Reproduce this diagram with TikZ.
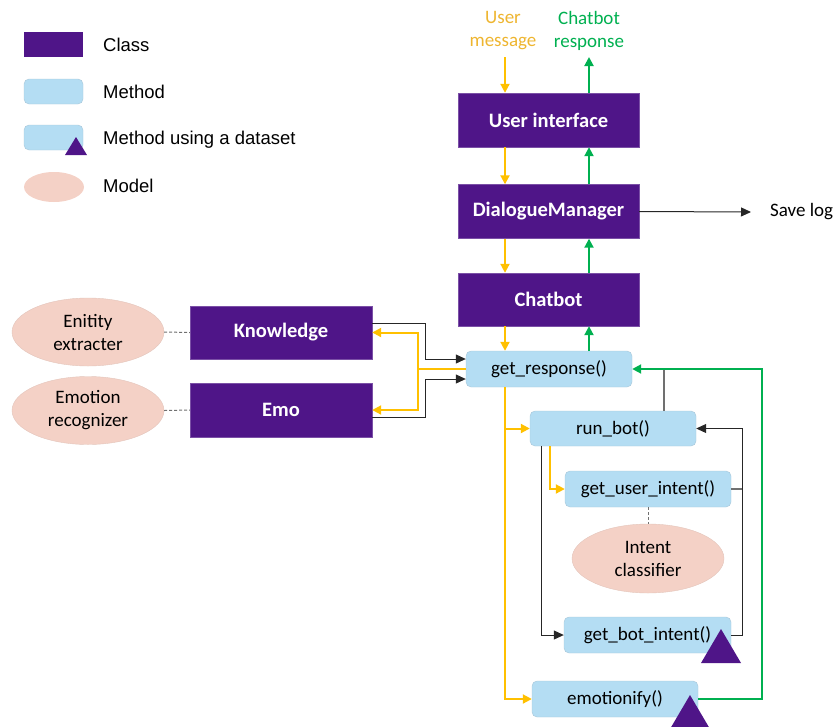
\documentclass[tikz,border=0pt]{standalone}
\usepackage{fontspec}
\setmainfont{Carlito}
\newfontfamily\legendfont{Liberation Sans}
\usetikzlibrary{arrows.meta,shapes.geometric}
\definecolor{classpurple}{HTML}{4F1588}
\definecolor{methodblue}{HTML}{B4DDF3}
\definecolor{methodedge}{HTML}{A8C6D8}
\definecolor{modelpink}{HTML}{F4D1C6}
\definecolor{flowyellow}{HTML}{FFC000}
\definecolor{flowgreen}{HTML}{00B050}
\definecolor{msgyellow}{HTML}{EEB530}
\definecolor{linkgray}{HTML}{707070}
\begin{document}
\begin{tikzpicture}[x=1pt,y=-1pt,
  classbox/.style={fill=classpurple, draw=classpurple!75!white, text=white,
    font=\fontsize{20.5}{23}\selectfont\bfseries, minimum width=181pt,
    minimum height=54pt, inner sep=0pt},
  methodbox/.style={fill=methodblue, draw=methodedge, rounded corners=5pt,
    font=\fontsize{19}{22}\selectfont, minimum width=166pt,
    minimum height=36pt, inner sep=0pt},
  modelnode/.style={ellipse, fill=modelpink, draw=modelpink!85!gray,
    font=\fontsize{19}{23}\selectfont, align=center, minimum width=152pt,
    minimum height=68pt, inner sep=0pt},
  legendtext/.style={anchor=west, inner sep=0pt,
    font=\legendfont\fontsize{18.5}{21}\selectfont},
  yarrow/.style={draw=flowyellow, line width=2pt,
    -{Triangle[length=9pt,width=9pt]}},
  garrow/.style={draw=flowgreen, line width=2pt,
    -{Triangle[length=9pt,width=9pt]}},
  ylink/.style={draw=flowyellow, line width=2pt},
  glink/.style={draw=flowgreen, line width=2pt},
  barrow/.style={draw=black!85, line width=1pt,
    -{Triangle[length=10pt,width=9pt]}},
  graylink/.style={draw=linkgray, line width=1.2pt},
  dashlink/.style={draw=linkgray, line width=1pt, dash pattern=on 3pt off 2pt},
  datamark/.style={fill=classpurple}
]
\useasboundingbox (0,0) rectangle (834,726);

% ---------- legend ----------
\node[fill=classpurple, minimum width=59pt, minimum height=25pt, inner sep=0pt]
  (lgclass) at (53.5,44.5) {};
\node[methodbox, minimum width=59pt, minimum height=25pt] (lgmethod) at (53.5,91.5) {};
\node[methodbox, minimum width=59pt, minimum height=25pt] (lgdata) at (53.5,137.5) {};
\fill[datamark] (76,137) -- (87,155) -- (65,155) -- cycle;
\node[modelnode, minimum width=60pt, minimum height=30pt, draw=none] (lgmodel) at (54,187) {};
\node[legendtext] (lgt1) at (103,45) {Class};
\node[legendtext] (lgt2) at (103,92) {Method};
\node[legendtext] (lgt3) at (103,140) {Method using a dataset};
\node[legendtext] (lgt4) at (103,186) {Model};

% ---------- classes ----------
\node[classbox] (ui) at (548.5,120) {User interface};
\node[classbox] (dm) at (548.5,211.5) {DialogueManager};
\node[classbox, minimum height=53pt] (cb) at (548.5,299.5) {Chatbot};
\node[classbox, minimum width=182pt, minimum height=53pt] (kn) at (281,332.5) {Knowledge};
\node[classbox, minimum width=182pt] (emo) at (281,410) {Emo};

% ---------- models ----------
\node[modelnode] (ent) at (88,332) {Enitity\\extracter};
\node[modelnode] (emr) at (88,410.5) {Emotion\\recognizer};
\node[modelnode, minimum height=69pt] (ic) at (648,558.5) {Intent\\classifier};

% ---------- methods ----------
\node[methodbox] (gr) at (549,369) {get\_response()};
\node[methodbox, minimum height=35pt] (rb) at (613,428.5) {run\_bot()};
\node[methodbox] (gui) at (648,489) {get\_user\_intent()};
\node[methodbox, minimum width=167pt] (gbi) at (647.5,635) {get\_bot\_intent()};
\node[methodbox] (em) at (615,699) {emotionify()};

% ---------- input / output labels ----------
\node[text=msgyellow, font=\fontsize{19}{23}\selectfont, align=center]
  (umsg) at (503,31) {User\\message};
\node[text=flowgreen, font=\fontsize{19}{23}\selectfont, align=center]
  (cresp) at (589,31) {Chatbot\\response};
\node[anchor=west, inner sep=0pt, font=\fontsize{19}{22}\selectfont]
  (savelog) at (770,212) {Save log};
\coordinate (umend) at (505,57);
\coordinate (crend) at (589,57);
\coordinate (ycol) at (505,0);
\coordinate (gcol) at (589,0);
\coordinate (yfork) at (418,369);

% ---------- main message path ----------
\draw[yarrow] (umend) -- (ycol |- ui.north);
\draw[garrow] (gcol |- ui.north) -- (crend);
\draw[yarrow] (ycol |- ui.south) -- (ycol |- dm.north);
\draw[garrow] (gcol |- dm.north) -- (gcol |- ui.south);
\draw[yarrow] (ycol |- dm.south) -- (ycol |- cb.north);
\draw[garrow] (gcol |- cb.north) -- (gcol |- dm.south);
\draw[yarrow] (ycol |- cb.south) -- (ycol |- gr.north);
\draw[garrow] (gcol |- gr.north) -- (gcol |- cb.south);
\draw[barrow] (dm.east) -- ([xshift=-19pt]savelog.west);

% ---------- knowledge and emotion helpers ----------
\draw[dashlink] (ent.east) -- (kn.west);
\draw[dashlink] (emr.east) -- (emo.west);
\draw[barrow] ([yshift=9.5pt]kn.east) -- ++(53,0) |- ([yshift=10pt]gr.west);
\draw[barrow] ([yshift=-7pt]emo.east) -- ++(53,0) |- ([yshift=-10pt]gr.west);
\draw[ylink] (gr.west) -- (yfork);
\draw[yarrow] (yfork) |- (kn.east);
\draw[yarrow] (yfork) |- (emo.east);

% ---------- response pipeline ----------
\draw[yarrow] (ycol |- gr.south) |- (rb.west);
\draw[yarrow] (ycol |- gr.south) |- (em.west);
\draw[graylink] ([xshift=51pt]rb.north) -- ([xshift=51pt]rb.north |- gr.east);
\draw[garrow] (em.east) -- ++(64,0) |- (gr.east);

% ---------- intent handling inside run_bot ----------
\draw[yarrow] ([xshift=-63pt]rb.south) |- (gui.west);
\draw[barrow] ([xshift=-72pt]rb.south) |- (gbi.west);
\draw[graylink] (gui.east) -- ++(11,0);
\draw[barrow] (gbi.east) -- ++(11,0) |- (rb.east);
\draw[dashlink] (gui.south) -- (ic.north);

% ---------- dataset markers ----------
\fill[datamark] (721,629) -- (741,663) -- (701,663) -- cycle;
\fill[datamark] (690,695) -- (710,729) -- (670,729) -- cycle;
\end{tikzpicture}
\end{document}
